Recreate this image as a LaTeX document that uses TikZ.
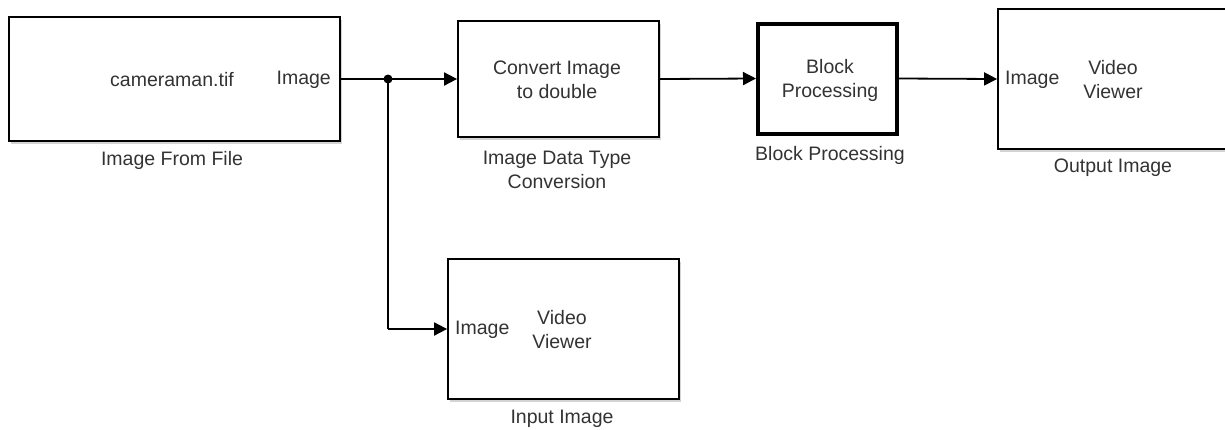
\documentclass[tikz,border=0pt]{standalone}
\usepackage{fontspec}
\setmainfont{Liberation Sans}
\usetikzlibrary{arrows.meta,shadows}
\definecolor{txt}{HTML}{333333}
\tikzset{
  blk/.style={draw=black, line width=1.8pt, fill=white, rectangle, inner sep=0pt,
    drop shadow={shadow xshift=2pt, shadow yshift=-2.5pt, opacity=0.35, fill=gray}},
  thickblk/.style={blk, line width=4pt},
  txtstyle/.style={text=txt, font=\fontsize{19.5}{24}\selectfont, inner sep=0pt, align=center},
  conn/.style={line width=1.8pt, draw=black, -{Triangle[length=13pt,width=13pt]}},
  wire/.style={line width=1.8pt, draw=black}
}
\begin{document}
\begin{tikzpicture}[x=1pt,y=-1pt]
\useasboundingbox (0,0) rectangle (1225,429);
\clip (0,0) rectangle (1225,429);
% blocks
\node[blk, minimum width=331pt, minimum height=124pt] (ifile) at (174.5,79) {};
\node[blk, minimum width=201pt, minimum height=116pt] (conv) at (558.5,79) {};
\node[thickblk, minimum width=139pt, minimum height=110pt] (bp) at (827.5,78.5) {};
\node[blk, minimum width=231pt, minimum height=140pt] (out) at (1113.5,79) {};
\node[blk, minimum width=231pt, minimum height=140pt] (inv) at (563.5,329) {};
% block texts
\node[txtstyle] (tcam) at (172,80) {cameraman.tif};
\node[txtstyle, anchor=east] (tport) at (331,80) {Image};
\node[txtstyle] (tconv) at (557,80) {Convert Image\\to double};
\node[txtstyle] (tbp) at (830,80) {Block\\Processing};
\node[txtstyle, anchor=west] (toutp) at (1005,80) {Image};
\node[txtstyle] (tout) at (1113,80) {Video\\Viewer};
\node[txtstyle, anchor=west] (tinp) at (455,330) {Image};
\node[txtstyle] (tin) at (562,330) {Video\\Viewer};
% labels
\node[txtstyle] (lfile) at (172,160) {Image From File};
\node[txtstyle] (lconv) at (557,170) {Image Data Type\\Conversion};
\node[txtstyle] (lbp) at (830,155) {Block Processing};
\node[txtstyle] (lout) at (1113,168) {Output Image};
\node[txtstyle] (lin) at (562,419) {Input Image};
% connectors
\coordinate (j) at (388,79);
\coordinate (jb) at (388,329);
\draw[conn] (ifile.east) -- (conv.west);
\draw[conn] (conv.east) -- (bp.west);
\draw[conn] (bp.east) -- (out.west);
\draw[wire] (j) -- (jb);
\draw[conn] (jb) -- (inv.west);
\fill[black] (j) circle (4.5pt);
\end{tikzpicture}
\end{document}
